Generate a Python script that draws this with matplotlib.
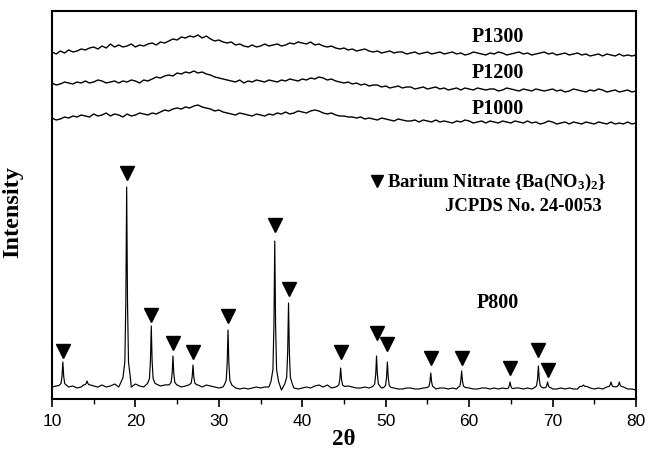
import numpy as np
import matplotlib
matplotlib.use("Agg")
import matplotlib.pyplot as plt

plt.rcParams['mathtext.fontset'] = 'custom'
plt.rcParams['mathtext.rm'] = 'Liberation Serif:bold'
plt.rcParams['mathtext.it'] = 'Liberation Serif:bold'
plt.rcParams['mathtext.bf'] = 'Liberation Serif:bold'

# ---------------- data (intensity in arbitrary units) ----------------
two_theta_grid = np.arange(10, 80.001, 0.5)

p1300 = [347, 345, 348, 346, 349, 347, 348, 350, 349, 351, 352, 350, 353, 351, 355, 352, 354, 352,
         353, 355, 352, 354, 353, 355, 356, 354, 357, 356, 358, 360, 359, 362, 361, 363, 362, 364,
         361, 363, 360, 358, 359, 357, 356, 357, 354, 355, 353, 352, 354, 352, 353, 355, 353, 354,
         355, 353, 354, 356, 355, 357, 356, 355, 357, 354, 355, 353, 352, 353, 351, 350, 351, 349,
         350, 348, 349, 350, 348, 347, 348, 346, 347, 348, 346, 347, 347, 345, 346, 347, 345, 346,
         347, 345, 346, 347, 345, 346, 347, 345, 346, 344, 345, 347, 346, 345, 344, 346, 345, 347,
         346, 344, 345, 346, 347, 345, 346, 344, 345, 346, 347, 345, 346, 344, 345, 346, 344, 345,
         346, 344, 345, 343, 344, 345, 343, 345, 344, 343, 345, 343, 344, 343, 344]

p1200 = [316, 314, 315, 317, 316, 315, 317, 316, 318, 316, 317, 319, 318, 316, 317, 318, 316, 318,
         317, 319, 318, 316, 319, 318, 320, 322, 321, 323, 324, 323, 326, 325, 327, 326, 328, 326,
         327, 325, 324, 322, 321, 320, 319, 318, 317, 319, 316, 318, 317, 319, 318, 317, 319, 318,
         317, 319, 318, 320, 319, 318, 320, 319, 321, 320, 322, 321, 319, 320, 318, 317, 316, 317,
         315, 316, 314, 315, 313, 314, 314, 312, 313, 311, 312, 313, 311, 312, 312, 310, 311, 312,
         310, 311, 312, 310, 311, 309, 310, 311, 309, 311, 310, 309, 311, 310, 309, 310, 310, 308,
         309, 311, 310, 309, 308, 310, 309, 308, 310, 309, 308, 309, 310, 308, 309, 307, 308, 310,
         309, 308, 307, 309, 308, 310, 309, 307, 308, 309, 307, 308, 309, 307, 308]

p1000 = [281, 279, 280, 282, 281, 283, 282, 284, 283, 282, 285, 283, 284, 286, 283, 285, 284, 282,
         285, 283, 284, 286, 285, 284, 286, 285, 287, 289, 288, 290, 291, 290, 292, 291, 293, 294,
         292, 291, 290, 288, 289, 287, 286, 285, 284, 286, 285, 284, 283, 285, 284, 283, 285, 284,
         286, 285, 287, 285, 286, 288, 287, 286, 288, 289, 288, 286, 285, 286, 284, 283, 283, 282,
         282, 281, 282, 280, 281, 280, 279, 281, 280, 279, 278, 280, 279, 278, 278, 279, 277, 279,
         278, 277, 279, 277, 278, 277, 276, 278, 277, 279, 278, 276, 277, 278, 276, 278, 277, 276,
         278, 277, 276, 278, 277, 276, 278, 276, 277, 275, 276, 278, 277, 275, 276, 277, 275, 277,
         276, 275, 277, 276, 275, 277, 276, 275, 277, 275, 276, 275, 277, 275, 276]

p800_background = [12, 13, 12, 13, 12, 13, 11, 12, 13, 15, 13, 12, 14, 12, 13, 15, 12, 14,
                   13, 12, 15, 13, 12, 14, 13, 15, 13, 14, 12, 13, 14, 12, 13, 15, 13, 14,
                   12, 14, 13, 12, 11, 12, 12, 11, 11, 10, 11, 10, 11, 12, 11, 12, 12, 13,
                   10, 9, 11, 12, 11, 10, 11, 12, 11, 13, 14, 12, 14, 11, 12, 12, 11, 13,
                   12, 11, 11, 12, 11, 12, 11, 11, 10, 11, 11, 10, 10, 11, 11, 10, 10, 11,
                   10, 11, 10, 11, 11, 10, 11, 10, 11, 10, 11, 10, 10, 11, 11, 10, 11, 10,
                   11, 10, 10, 11, 11, 10, 11, 10, 10, 11, 10, 11, 10, 10, 11, 10, 11, 10,
                   10, 12, 13, 11, 10, 11, 10, 11, 12, 13, 12, 13, 10, 10, 9]

# P800 diffraction peaks: position (2theta) and apex intensity
peak_pos = [11.3, 14.2, 18.95, 21.9, 24.5, 26.9, 31.1, 36.7, 38.35, 44.6,
            48.9, 50.2, 55.4, 59.1, 64.9, 68.3, 69.4, 73.7, 77.0, 78.0]
peak_int = [37, 18, 212, 73, 43, 34, 69, 158, 96, 31,
            43, 37, 26, 28, 17, 33, 17, 14, 17, 17]

# Ba(NO3)2 reflections marked with triangles
marker_pos = [11.3, 18.95, 21.9, 24.5, 26.9, 31.1, 36.7, 38.35, 44.6,
              48.9, 50.2, 55.4, 59.1, 64.9, 68.3, 69.4]
marker_int = [48, 226, 84, 56, 47, 83, 174, 110, 47,
              66, 55, 41, 41, 31, 49, 29]

x_ticks = [10, 20, 30, 40, 50, 60, 70, 80]

# ---------------- build P800 trace ----------------
bx = np.asarray(two_theta_grid)
by = np.asarray(p800_background, dtype=float)
keep = np.ones_like(bx, dtype=bool)
for c in peak_pos:
    keep &= np.abs(bx - c) > 0.5
xs = list(bx[keep])
ys = list(by[keep])
offs = [-0.45, -0.22, -0.1, 0.0, 0.1, 0.22, 0.45]
fr = [0.04, 0.12, 0.42, 1.0, 0.42, 0.12, 0.04]
for c, h in zip(peak_pos, peak_int):
    base = np.interp(c, bx, by)
    for o, f in zip(offs, fr):
        xs.append(c + o)
        ys.append(base + f * (h - base))
xs = np.array(xs)
ys = np.array(ys)
order = np.argsort(xs)
xs, ys = xs[order], ys[order]

# ---------------- figure ----------------
fig = plt.figure(figsize=(6.54, 4.54), dpi=100)
ax = fig.add_axes([52 / 654, 1 - 399 / 454, 584 / 654, 388 / 454])

lw = 1.0
ax.plot(two_theta_grid, p1300, color='black', lw=lw)
ax.plot(two_theta_grid, p1200, color='black', lw=lw)
ax.plot(two_theta_grid, p1000, color='black', lw=lw)
ax.plot(xs, ys, color='black', lw=0.85)
ax.plot(marker_pos, marker_int, linestyle='none', marker='v', color='black', markersize=9.5)

ax.set_xlim(10, 80)
ax.set_ylim(0, 388)
ax.set_yticks([])
ax.set_xticks(x_ticks)
ax.set_xticks(np.arange(15, 80, 10), minor=True)
ax.tick_params(axis='x', which='major', direction='out', length=6, width=1.2,
               labelsize=12.5, pad=5)
ax.tick_params(axis='x', which='minor', direction='out', length=3.5, width=1.0)
for lab in ax.get_xticklabels():
    lab.set_fontfamily('Liberation Sans')
for s in ax.spines.values():
    s.set_linewidth(1.5)

serif_b = dict(family='Liberation Serif', fontweight='bold')
ax.set_xlabel('2θ', fontsize=16.5, labelpad=0, **serif_b)
ax.set_ylabel('Intensity', fontsize=17.5, **serif_b)
ax.yaxis.set_label_coords(-0.05, 0.482)

ax.text(63.4, 362, 'P1300', ha='center', va='center', fontsize=14.5, **serif_b)
ax.text(63.4, 326, 'P1200', ha='center', va='center', fontsize=14.5, **serif_b)
ax.text(63.4, 290, 'P1000', ha='center', va='center', fontsize=14.5, **serif_b)
ax.text(63.4, 96, 'P800', ha='center', va='center', fontsize=14.5, **serif_b)

ax.plot([49.0], [218], linestyle='none', marker='v', color='black', markersize=8.5)
ax.text(50.2, 217, r'Barium Nitrate {Ba(NO$_\mathregular{3}$)$_\mathregular{2}$}',
        ha='left', va='center', fontsize=13.4, **serif_b)
ax.text(75.95, 192, 'JCPDS No. 24-0053', ha='right', va='center', fontsize=13.4, **serif_b)

fig.savefig('out.png', dpi=100)
